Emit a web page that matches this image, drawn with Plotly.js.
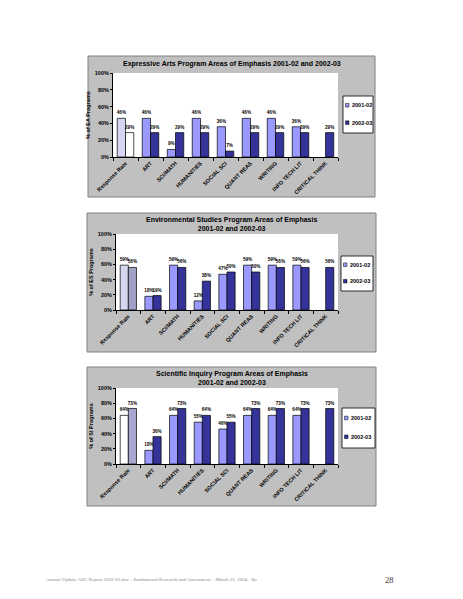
<!DOCTYPE html>
<html><head><meta charset="utf-8">
<script src="https://cdn.plot.ly/plotly-3.0.1.min.js"></script>
<style>html,body{margin:0;padding:0;background:#fff}#chart{width:463px;height:599px}</style>
</head><body><div id="chart"></div>
<script>
// ---------- DATA ----------
const categories = ["Response Rate","ART","SCI/MATH","HUMANITIES","SOCIAL SCI","QUANT REAS","WRITING","INFO TECH LIT","CRITICAL THINK"];
const seriesNames = ["2001-02","2002-03"];
const yTicks = [0,20,40,60,80,100];
const yTickLabels = ["0%","20%","40%","60%","80%","100%"];

const eaTitle = "Expressive Arts Program Areas of Emphasis 2001-02 and 2002-03";
const eaYTitle = "% of EA Programs";
const ea2001 = [46,46,9,46,36,46,46,36,null];
const ea2002 = [29,29,29,29,7,29,29,29,29];

const esTitle = "Environmental Studies Program Areas of Emphasis<br>2001-02 and 2002-03";
const esYTitle = "% of ES Programs";
const es2001 = [59,18,59,12,47,59,59,59,null];
const es2002 = [56,19,56,38,50,50,56,56,56];

const siTitle = "Scientific Inquiry Program Areas of Emphasis<br>2001-02 and 2002-03";
const siYTitle = "% of SI Programs";
const si2001 = [64,18,64,55,46,64,64,64,null];
const si2002 = [73,36,73,64,55,73,73,73,73];

const footerText = "Annual Update ASG Report 2002-03.doc – Institutional Research and Assessment – March 22, 2004 - lkr";
const pageNumber = "28";

// ---------- STYLE / LAYOUT ----------
const W = 463, H = 599;
const X = p => p / W, Y = p => 1 - p / H;
const seriesColors = ["#9999ff", "#333399"];
const FONT = "Liberation Sans, Arial, sans-serif";

const panels = [
  {title: eaTitle, ytitle: eaYTitle, s: [ea2001, ea2002], frame: [88,56,375,197], plot: [113,73,338,157], titleY: 64, legend: [343,96,373,133], resp: ["#d6d6f4","#ffffff"]},
  {title: esTitle, ytitle: esYTitle, s: [es2001, es2002], frame: [87,213,376,352], plot: [116,234,338,310], titleY: 224, legend: [341,256,373,291], resp: ["#d6d6f0","#a0a0c6"]},
  {title: siTitle, ytitle: siYTitle, s: [si2001, si2002], frame: [87,367,376,506], plot: [116,388,338,464], titleY: 377.5, legend: [342,408,375,448], resp: ["#ffffff","#a8a8d2"]}
];

const traces = [];
const layout = {
  width: W, height: H,
  margin: {l:0, r:0, t:0, b:0},
  paper_bgcolor: "#ffffff",
  plot_bgcolor: "#ffffff",
  showlegend: false,
  barmode: "group",
  bargap: 0.34,
  bargroupgap: 0,
  font: {family: FONT, color: "#000"},
  shapes: [],
  annotations: []
};

panels.forEach((p, i) => {
  const sfx = i === 0 ? "" : String(i + 1);
  const xa = "x" + sfx, ya = "y" + sfx;
  layout.shapes.push({type: "rect", xref: "paper", yref: "paper", layer: "below",
    x0: X(p.frame[0]), x1: X(p.frame[2]), y0: Y(p.frame[3]), y1: Y(p.frame[1]),
    fillcolor: "#c0c0c0", line: {color: "#808080", width: 1}});
  layout.shapes.push({type: "rect", xref: "paper", yref: "paper", layer: "below",
    x0: X(p.plot[0]), x1: X(p.plot[2]), y0: Y(p.plot[3]), y1: Y(p.plot[1]),
    fillcolor: "#ffffff", line: {width: 0}});

  p.s.forEach((vals, k) => {
    traces.push({
      type: "bar", name: seriesNames[k], x: categories, y: vals,
      xaxis: xa, yaxis: ya,
      marker: {color: categories.map((c, j) => j === 0 ? p.resp[k] : seriesColors[k]), line: {color: "#000", width: 0.7}},
      text: vals.map(v => v === null ? "" : v + "%"),
      textposition: "outside", constraintext: "none", cliponaxis: false,
      textfont: {size: 4.6, family: FONT, weight: "bold", color: "#000"},
      hoverinfo: "x+y"
    });
  });

  layout["xaxis" + sfx] = {
    domain: [X(p.plot[0]), X(p.plot[2])], anchor: ya,
    type: "category", tickangle: -45,
    tickfont: {size: 5.5, family: FONT, weight: "bold"},
    showline: true, linecolor: "#000", linewidth: 1,
    ticks: "outside", ticklen: 3, tickcolor: "#000", tickwidth: 1, tickson: "boundaries",
    showgrid: false, zeroline: false, fixedrange: true
  };
  layout["yaxis" + sfx] = {
    domain: [Y(p.plot[3]), Y(p.plot[1])], anchor: xa,
    range: [0, 100], tickmode: "array", tickvals: yTicks, ticktext: yTickLabels,
    tickfont: {size: 5.5, family: FONT, weight: "bold"},
    showline: true, linecolor: "#000", linewidth: 1,
    ticks: "outside", ticklen: 2, tickcolor: "#000",
    showgrid: false, zeroline: false, fixedrange: true,
    title: {text: p.ytitle, font: {size: 5.5, family: FONT, weight: "bold"}, standoff: 3}
  };

  layout.annotations.push({xref: "paper", yref: "paper", x: X(232), y: Y(p.titleY),
    xanchor: "center", yanchor: "middle", showarrow: false, text: p.title,
    font: {size: 7, family: FONT, weight: "bold"}});

  const lg = p.legend, lh = lg[3] - lg[1];
  layout.shapes.push({type: "rect", xref: "paper", yref: "paper",
    x0: X(lg[0]), x1: X(lg[2]), y0: Y(lg[3]), y1: Y(lg[1]),
    fillcolor: "#ffffff", line: {color: "#000", width: 0.8}});
  [0.25, 0.72].forEach((f, k) => {
    const cy = lg[1] + lh * f;
    layout.shapes.push({type: "rect", xref: "paper", yref: "paper",
      x0: X(lg[0] + 2.5), x1: X(lg[0] + 6), y0: Y(cy + 1.8), y1: Y(cy - 1.8),
      fillcolor: seriesColors[k], line: {color: "#000", width: 0.5}});
    layout.annotations.push({xref: "paper", yref: "paper", x: X(lg[0] + 7), y: Y(cy),
      xanchor: "left", yanchor: "middle", showarrow: false, text: seriesNames[k],
      font: {size: 5.5, family: FONT, weight: "bold"}});
  });
});

layout.annotations.push({xref: "paper", yref: "paper", x: X(44), y: Y(580), xanchor: "left", yanchor: "middle",
  showarrow: false, text: footerText, font: {size: 5, family: "Liberation Serif, Times New Roman, serif", color: "#8a8a8a"}});
layout.annotations.push({xref: "paper", yref: "paper", x: X(383), y: Y(580), xanchor: "left", yanchor: "middle",
  showarrow: false, text: pageNumber, font: {size: 8.5, family: "Liberation Serif, Times New Roman, serif", color: "#333"}});

Plotly.newPlot("chart", traces, layout, {staticPlot: true, displayModeBar: false});
</script>
</body></html>
